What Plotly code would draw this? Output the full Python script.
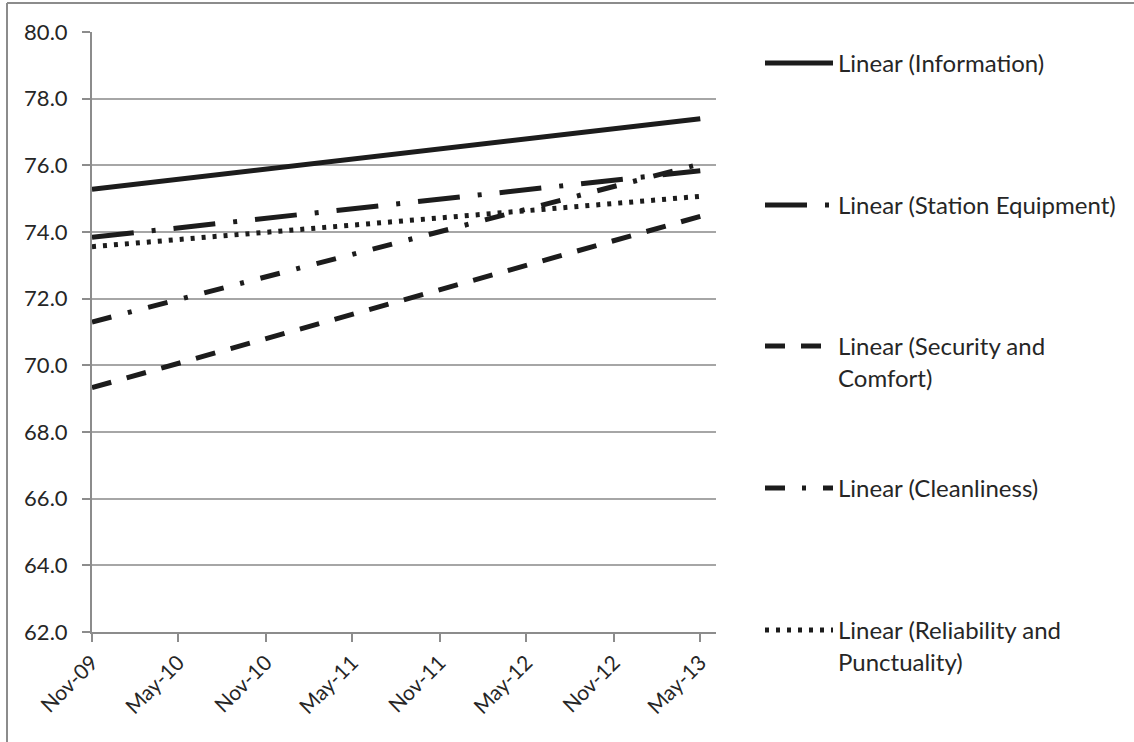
import plotly.graph_objects as go

# ---- data ----
dates = ["2009-11-01", "2013-05-01"]
tick_dates = ["2009-11-01", "2010-05-01", "2010-11-01", "2011-05-01",
              "2011-11-01", "2012-05-01", "2012-11-01", "2013-05-01"]
tick_labels = ["Nov-09", "May-10", "Nov-10", "May-11",
               "Nov-11", "May-12", "Nov-12", "May-13"]
series_names = ["Linear (Information)", "Linear (Station Equipment)",
                "Linear (Security and<br>Comfort)", "Linear (Cleanliness)",
                "Linear (Reliability and<br>Punctuality)"]
information = [75.28, 77.40]
station_equipment = [73.84, 75.84]
security_comfort = [69.33, 74.47]
cleanliness = [71.30, 76.04]
reliability = [73.56, 75.07]
y_ticks = [62, 64, 66, 68, 70, 72, 74, 76, 78, 80]

values = [information, station_equipment, security_comfort, cleanliness, reliability]
dashes = ["solid", "42px,18px,4px,18px", "20px,16px", "20px,17px,4px,17px", "4px,7px"]

# ---- layout constants (pixels) ----
W, H = 1134, 742
L, R, T, B = 92, 716, 32, 632
PW, PH = R - L, B - T

def px_x(p):
    return (p - L) / PW

def px_y(p):
    return (B - p) / PH

INK = "#1c1c1c"
TXT = "#262626"
FONT = "Lato"

fig = go.Figure()
legend_ids = ["legend", "legend2", "legend3", "legend4", "legend5"]
legend_tops = [62, 204, 345, 487, 629]
for name, vals, dash, lid in zip(series_names, values, dashes, legend_ids):
    fig.add_trace(go.Scatter(
        x=dates, y=vals, mode="lines", name=name,
        line=dict(color=INK, width=5, dash=dash),
        legend=lid, hoverinfo="skip",
    ))

layout_legends = {}
for lid, ypx in zip(legend_ids, legend_tops):
    layout_legends[lid] = dict(
        x=px_x(760), xanchor="left",
        y=px_y(ypx - 21), yanchor="top",
        font=dict(family=FONT, size=24, color=TXT),
        bgcolor="rgba(0,0,0,0)", borderwidth=0,
        itemwidth=68, valign="top", tracegroupgap=0,
    )

fig.update_layout(
    width=W, height=H,
    margin=dict(l=L, r=W - R, t=T, b=H - B, pad=0),
    paper_bgcolor="white", plot_bgcolor="white",
    showlegend=True,
    font=dict(family=FONT, size=22, color=TXT),
    xaxis=dict(
        type="date",
        range=["2009-11-01", "2013-06-03"],
        tickvals=tick_dates, ticktext=tick_labels,
        tickangle=-45,
        showgrid=False, zeroline=False,
        showline=True, linecolor="#8c8c8c", linewidth=2,
        ticks="outside", ticklen=8, tickcolor="#8c8c8c", tickwidth=2,
        tickfont=dict(family=FONT, size=21, color=TXT),
    ),
    yaxis=dict(
        range=[62, 80],
        tickvals=y_ticks, tickformat=".1f",
        showgrid=True, gridcolor="#a6a6a6", gridwidth=1.5,
        zeroline=False,
        showline=True, linecolor="#8c8c8c", linewidth=2,
        ticks="outside", ticklen=8, tickcolor="#8c8c8c", tickwidth=2,
        ticklabelstandoff=10,
        tickfont=dict(family=FONT, size=22, color=TXT),
    ),
    shapes=[
        dict(type="line", xref="paper", yref="paper",
             x0=px_x(7), x1=px_x(W + 5), y0=px_y(3), y1=px_y(3),
             line=dict(color="#8c8c8c", width=2)),
        dict(type="line", xref="paper", yref="paper",
             x0=px_x(7), x1=px_x(7), y0=px_y(3), y1=px_y(H + 5),
             line=dict(color="#8c8c8c", width=2)),
    ],
    **layout_legends,
)

fig.write_html(
    "out.html",
    config={"displayModeBar": False},
    post_script="document.body.style.margin='0';document.body.style.overflow='hidden';",
)
